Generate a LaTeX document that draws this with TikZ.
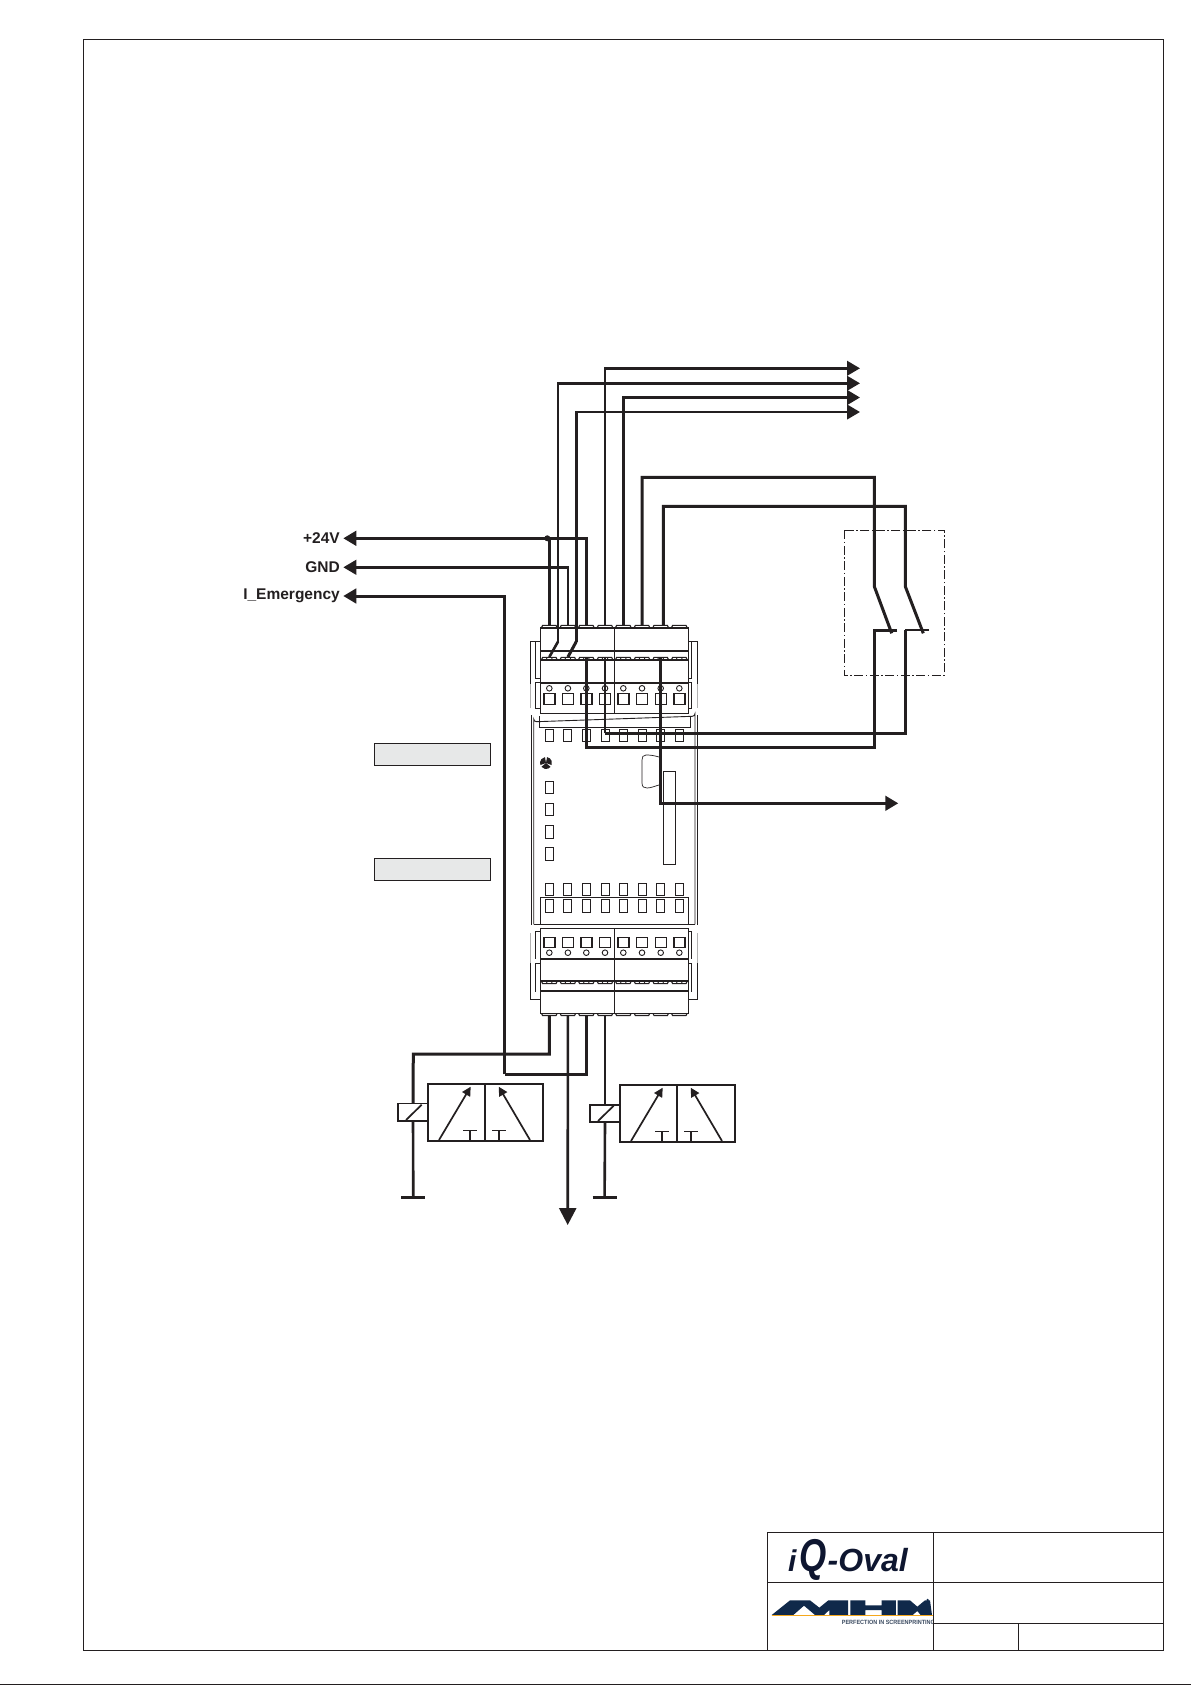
\documentclass[tikz,border=0pt]{standalone}
\usepackage{fontspec}
\usepackage{graphicx}
\setmainfont{Liberation Sans}
\usetikzlibrary{arrows.meta,calc}
\definecolor{ink}{HTML}{231F20}
\definecolor{navy}{HTML}{10294A}
\definecolor{claim}{HTML}{3A4A60}
\definecolor{logoink}{HTML}{0E1630}
\definecolor{orangeline}{HTML}{F5A81C}
\definecolor{boxgray}{HTML}{E7E8E8}
\tikzset{
  wire/.style={draw=ink,line width=3pt,line join=miter},
  wirethin/.style={draw=ink,line width=2.6pt,line join=miter},
  frameline/.style={draw=ink,line width=1.25pt},
  part/.style={draw=ink,line width=.9pt},
  partfaint/.style={draw=ink!35,line width=.7pt},
  partthick/.style={draw=ink,line width=1.6pt},
  bar/.style={draw=ink,line width=1.7pt},
  tipped/.style={-{Triangle[length=13pt,width=14.5pt]}},
  bigtip/.style={-{Triangle[length=17pt,width=17pt]}},
  label/.style={font=\bfseries\fontsize{15.5}{17}\selectfont,text=ink,anchor=east,inner sep=0pt},
  graybox/.style={draw=ink,line width=1pt,fill=boxgray},
  coilbox/.style={draw=ink,line width=1.7pt,fill=white,minimum width=29.4pt,minimum height=17.4pt,inner sep=0pt},
}
\begin{document}
\begin{tikzpicture}[x=1pt,y=-1pt]
\useasboundingbox (0,0) rectangle (1191,1685);
\fill[white] (0,0) rectangle (1191,1685);
% page frame and title block
\draw[frameline] (83.3,39.3) rectangle (1163.5,1650.5);
\draw[frameline] (0,1684.3) -- (1191,1684.3);
\draw[frameline] (767.3,1650.5) -- (767.3,1532.7) -- (1163.5,1532.7);
\draw[frameline] (933.3,1532.7) -- (933.3,1650.5);
\draw[frameline] (767.3,1582.3) -- (1163.5,1582.3);
\draw[frameline] (933.3,1623.3) -- (1163.5,1623.3);
\draw[frameline] (1018.3,1623.3) -- (1018.3,1650.5);
% logos
\node[text=logoink,inner sep=0pt,anchor=base west] (iqlogo) at (788,1571.7)
  {\bfseries\itshape{\fontsize{30}{32}\selectfont i}\kern3pt{\fontsize{46}{50}\selectfont\scalebox{.76}[1]{Q}}\kern1pt{\fontsize{32}{34}\selectfont -Oval}};
\begin{scope}[shift={(760,1520)},x=.3333pt,y=-.3333pt]
  % in 3x zoom coordinates
  \fill[navy] (35,285) -- (90,241) -- (150,241) -- (178,263) -- (205,241) -- (264,241) -- (264,285) -- (208,285) -- (208,270) -- (192,285) -- (165,285) -- (132,257) -- (100,285) -- cycle;
  \fill[navy] (271,241) -- (316,241) -- (316,256) -- (365,256) -- (365,241) -- (408,241) -- (408,285) -- (365,285) -- (365,270) -- (316,270) -- (316,285) -- (271,285) -- cycle;
  \fill[navy] (413,241) -- (450,241) -- (472,260) -- (495,241) -- (510,241) -- (516,285) -- (482,285) -- (472,273) -- (458,285) -- (413,285) -- cycle;
  \fill[navy] (503,240) circle (4);
\end{scope}
\draw[orangeline,line width=1.2pt] (771.5,1615.8) -- (932.5,1615.8);
\begin{scope}
  \clip (760,1610) rectangle (932.8,1630);
  \node[text=claim,inner sep=0pt,anchor=west,font=\bfseries\fontsize{6.1}{7}\selectfont] (mhmclaim) at (841.7,1622) {\scalebox{.9}[1]{PERFECTION IN SCREENPRINTING}};
\end{scope}
% gray boxes
\node[graybox,minimum width=116.4pt,minimum height=22pt,inner sep=0pt] (grayA) at (432.5,754.3) {};
\node[graybox,minimum width=116.4pt,minimum height=22.4pt,inner sep=0pt] (grayB) at (432.5,869.5) {};
% dash-dot safety box
\draw[draw=ink,line width=.8pt,dash pattern=on 9pt off 2.5pt on 1.5pt off 2.5pt] (844.3,530.3) rectangle (944.3,675.3);
% module: body
\draw[part] (533.7,924.3) -- (533.7,719) arc[start angle=180,end angle=90,radius=2.7] -- (692.3,716.3) arc[start angle=90,end angle=0,radius=2.7] -- (695,924.3);
\draw[part] (531.7,715) -- (531.7,925);
\draw[part] (697.3,715) -- (697.3,925);
\draw[part] (533.7,924.3) -- (695,924.3);
\draw[part] (539.3,716.3) -- (539.3,727.3) -- (690.7,727.3) -- (690.7,716.3);
\draw[part] (540.3,897.3) rectangle (688.3,924.3);
% side rails
\foreach \xo/\xi/\xb in {530.3/535.7/540.3,697.3/691.7/688.3}{
  \draw[part] (\xb,641.3) -- (\xo,641.3) -- (\xo,684);
  \draw[partfaint] (\xo,684) -- (\xo,708);
  \draw[part] (\xi,641.3) -- (\xi,678) -- (\xb,678);
  \draw[part] (\xb,682.7) -- (\xi,682.7) -- (\xi,708) -- (\xb,708);
  \draw[part] (\xb,999.3) -- (\xo,999.3) -- (\xo,963);
  \draw[partfaint] (\xo,963) -- (\xo,933);
  \draw[part] (\xb,931) -- (\xi,931) -- (\xi,959.3);
  \draw[part] (\xb,963.3) -- (\xi,963.3) -- (\xi,991.7);
}
% upper and lower terminal blocks
\draw[part] (540.3,627.7) rectangle (688.3,713);
\draw[part] (540.3,928.7) rectangle (688.3,1013.3);
\draw[part] (614.7,627.7) -- (614.7,713);
\draw[part] (614.7,928.7) -- (614.7,1013.3);
\foreach \yy in {627.7,651,660,682.7,959,981,990.7,1013.3}{
  \draw[partthick] (540.3,\yy) -- (688.3,\yy);
}
% per-terminal details
\foreach \n/\x in {1/549.3,2/567.9,3/586.3,4/605,5/623.3,6/642,7/660.7,8/679.3}{
  \coordinate (t\n) at (\x,625.5);
  \coordinate (s\n) at (\x,657);
  \coordinate (u\n) at (\x,1015);
  \draw[part,line width=1.1pt] (\x-7.7,627.5) -- (\x-6.7,625.4) -- (\x+6.7,625.4) -- (\x+7.7,627.5);
  \draw[part,line width=1.1pt] (\x-7.7,1013.5) -- (\x-6.7,1015.5) -- (\x+6.7,1015.5) -- (\x+7.7,1013.5);
  % half screw heads
  \draw[part] (\x-3,657.5) arc[start angle=180,end angle=0,radius=3];
  \draw[part,line width=1.1pt] (\x-7.7,659.5) -- (\x-6.7,657.4) -- (\x+6.7,657.4) -- (\x+7.7,659.5);
  \draw[part] (\x-3,983.6) arc[start angle=180,end angle=360,radius=3];
  \draw[part,line width=1.1pt] (\x-7.7,981.5) -- (\x-6.7,983.6) -- (\x+6.7,983.6) -- (\x+7.7,981.5);
  % screws and square openings
  \draw[part] (\x,688.3) circle (2.8);
  \draw[bar,line width=1.4pt] (\x-5.5,693.7) rectangle (\x+5.5,704.3);
  \draw[part] (\x,952.7) circle (2.8);
  \draw[bar,line width=1.4pt] (\x-5.5,937.3) rectangle (\x+5.5,947.7);
  % LED windows
  \draw[part] (\x-4,729.3) rectangle (\x+4,741.7);
  \draw[part] (\x-4,883.3) rectangle (\x+4,895.7);
  \draw[part] (\x-4,899.3) rectangle (\x+4,912.3);
}
% front-panel details
\foreach \ya/\yb in {781/793.3,803.3/815.3,825.3/838.3,847.7/860}{
  \draw[part] (545.3,\ya) rectangle (553.3,\yb);
}
\draw[part] (663.3,771.7) rectangle (675.3,864.3);
\draw[draw=ink,line width=.7pt] (659,757) .. controls (652,755) and (649,755) .. (646,755) .. controls (643,755) and (642,757) .. (642,760) -- (642,783) .. controls (642,787) and (644,788) .. (647,788) .. controls (651,788) and (655,786) .. (659,785);
\foreach \a in {90,210,330}{
  \fill[ink] (546,763) -- ++(\a-50:6) arc[start angle=\a-50,end angle=\a+50,radius=6] -- cycle;
}
% labels and their arrow targets
\node[label] (lab24) at (340,538.3) {+24V};
\node[label] (labgnd) at (340,567.3) {GND};
\node[label] (labem) at (340,596) {I\_Emergency};
\coordinate (tip24) at (343.3,538.3);
\coordinate (tipgnd) at (343.3,567.3);
\coordinate (tipem) at (343.3,596);
\coordinate (out1) at (860,368.3);
\coordinate (out2) at (860,383.3);
\coordinate (out3) at (860,397.5);
\coordinate (out4) at (860,412);
\coordinate (out5) at (898.3,803.3);
\coordinate (downtip) at (567.7,1225);
% switch geometry
\coordinate (swA) at (874.4,586.7);
\coordinate (swAe) at (891.7,633.3);
\coordinate (swB) at (905.4,586.7);
\coordinate (swBe) at (923.3,633.3);
% wires to the top terminals
\draw[wirethin,tipped] (t4) |- (out1);
\draw[wirethin,tipped] (558,641.7) |- (out2);
\draw[wirethin] (558,641.7) -- (s1);
\draw[wire,tipped] (t5) |- (out3);
\draw[wirethin,tipped] (576.2,641.7) |- (out4);
\draw[wire] (576.2,641.7) -- (s2);
\draw[wire] (t6) |- (874.4,477.3) -- (swA) -- (swAe);
\draw[wire] (663.3,625.5) |- (905.4,506.3) -- (swB) -- (swBe);
% supply wires
\draw[wire,tipped] (586.3,625.5) |- (tip24);
\draw[wire] (t1) -- (549.3,538.3);
\fill[ink] (547.3,538.3) circle (3);
\draw[wirethin,tipped] (t2) |- (tipgnd);
\draw[wire,tipped] (504.7,1074.3) |- (tipem);
% switch returns
\draw[wire] (897,630) -- (874.4,630) -- (874.4,747.3) -- (586.3,747.3) -- (s3);
\draw[wirethin] (929,630) -- (905.4,630);
\draw[wire] (905.4,630) -- (905.4,733.3) -- (605,733.3);
\draw[wirethin] (605,733.3) -- (s4);
% output to the right
\draw[wire,tipped] (s7) |- (out5);
% valves
\node[coilbox] (coilL) at (413,1112.3) {};
\node[coilbox] (coilR) at (605,1113.5) {};
\coordinate (gndL) at (413.3,1197.3);
\coordinate (gndR) at (604.6,1197.3);
\draw[wire] (u1) |- (413.3,1054) -- (coilL.north);
\draw[wirethin] (coilL.south) -- (gndL);
\draw[wire] (u3) |- (504.7,1074.3);
\draw[wirethin,bigtip] (u2) -- (downtip);
\draw[wirethin] (u4) -- (coilR.north);
\draw[wirethin] (coilR.south) -- (gndR);
\draw[draw=ink,line width=3pt] ($(gndL)+(-12,0)$) -- ($(gndL)+(12,0)$);
\draw[draw=ink,line width=3pt] ($(gndR)+(-12,0)$) -- ($(gndR)+(12,0)$);
\foreach \dx/\dy/\nm in {0/0/L,192/1/R}{
  \begin{scope}[shift={(\dx,\dy)}]
    \draw[bar] (427.7,1083.7) rectangle (543.3,1141);
    \draw[draw=ink,line width=2.2pt] (485,1083.7) -- (485,1141);
    \draw[draw=ink,line width=1.7pt] (406,1120) -- (421.7,1104.7);
    \draw[draw=ink,line width=1.7pt,-{Triangle[length=9pt,width=9pt]}] (439,1140) -- (470.7,1086.7);
    \draw[draw=ink,line width=1.7pt,-{Triangle[length=9pt,width=9pt]}] (530,1140) -- (498.7,1086.7);
    \draw[draw=ink,line width=1.4pt] (463,1130.7) -- (477,1130.7);
    \draw[draw=ink,line width=1.4pt] (470,1130.7) -- (470,1141);
    \draw[draw=ink,line width=1.4pt] (492,1130.7) -- (506,1130.7);
    \draw[draw=ink,line width=1.4pt] (499,1130.7) -- (499,1141);
  \end{scope}
}
\end{tikzpicture}
\end{document}
